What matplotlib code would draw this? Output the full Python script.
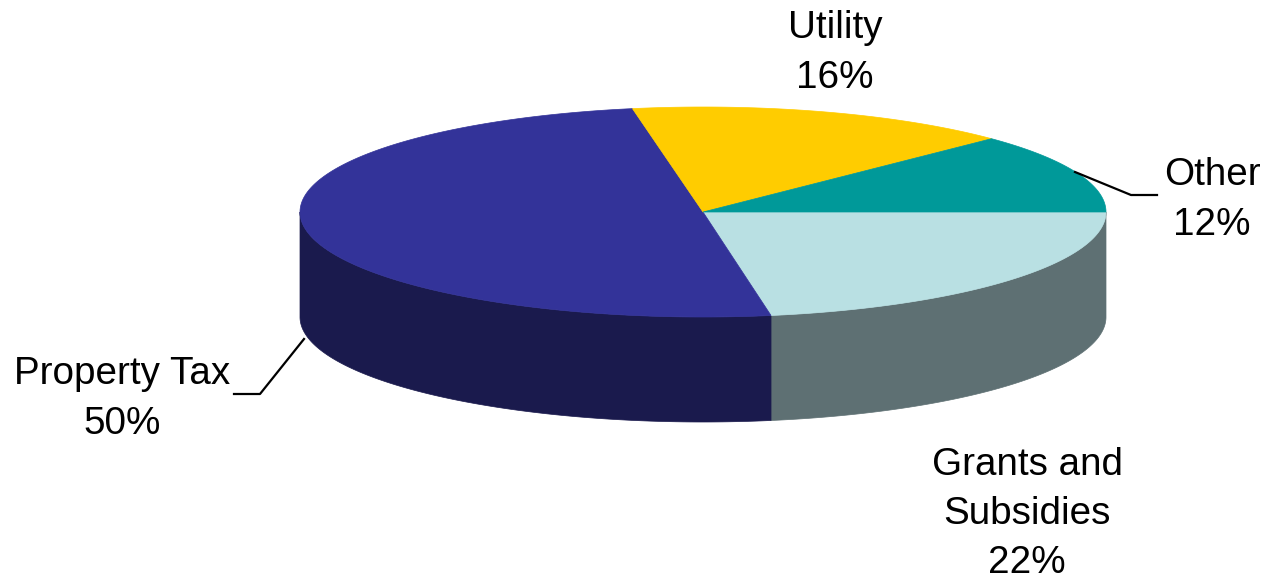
import numpy as np
import matplotlib
matplotlib.use("Agg")
import matplotlib.pyplot as plt
from matplotlib.patches import Polygon

plt.rcParams['font.family'] = ['Liberation Sans', 'DejaVu Sans']

# données, dans l'ordre horaire depuis 3 h
categories = ["Grants and\nSubsidies", "Property Tax", "Utility", "Other"]
values = [22.3, 49.9, 15.5, 12.3]
percent_labels = ["22%", "50%", "16%", "12%"]
top_colors = ["#B9E0E3", "#333399", "#FFCC00", "#009999"]
side_colors = ["#5E7073", "#1A1A4D", "#806600", "#004D4D"]

# géométrie de la tarte, en pixels
cx, cy = 703, 212
rx, ry = 403, 105
depth = 105
label_pos = [(1027, 514), (122, 399), (835, 53), (1212, 200)]

fig = plt.figure(figsize=(12.7, 5.79), dpi=100)
ax = fig.add_axes([0, 0, 1, 1])
ax.set_xlim(0, 1270)
ax.set_ylim(579, 0)
ax.axis("off")


def rim(a0, a1, n=200):
    t = np.radians(np.linspace(a0, a1, n))
    return cx + rx * np.cos(t), cy + ry * np.sin(t)


edges = np.cumsum([0] + values) / sum(values) * 360

# parois visibles (moitié avant de l'ellipse)
for i in range(len(values)):
    a0, a1 = edges[i], min(edges[i + 1], 180)
    if a0 >= 180:
        continue
    x, y = rim(a0, a1)
    pts = np.column_stack([np.r_[x, x[::-1]], np.r_[y, y[::-1] + depth]])
    ax.add_patch(Polygon(pts, closed=True, fc=side_colors[i], ec=side_colors[i], lw=0.5))

# dessus
for i in range(len(values)):
    x, y = rim(edges[i], edges[i + 1])
    pts = np.column_stack([np.r_[cx, x], np.r_[cy, y]])
    ax.add_patch(Polygon(pts, closed=True, fc=top_colors[i], ec=top_colors[i], lw=0.5))

# étiquettes
for name, pct, (lx, ly) in zip(categories, percent_labels, label_pos):
    ax.text(lx, ly, f"{name}\n{pct}", ha="center", va="center", fontsize=27.8,
            color="black", linespacing=1.47)

# traits de rappel
ax.plot([1075, 1131, 1157], [172, 195, 195], color="black", lw=1.6)
ax.plot([304, 260, 234], [339, 394, 394], color="black", lw=1.6)

fig.savefig("out.png", dpi=100)
